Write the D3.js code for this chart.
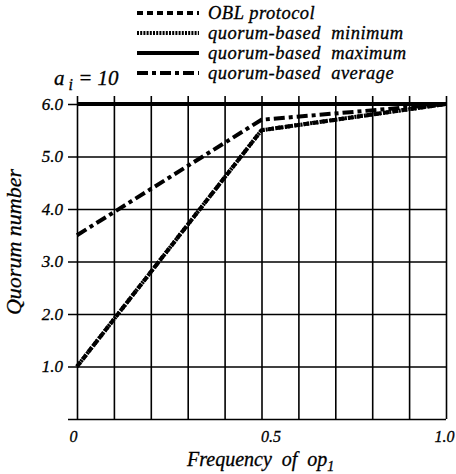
<!DOCTYPE html>
<html>
<head>
<meta charset="utf-8">
<script src="https://d3js.org/d3.v7.min.js"></script>
<style>
  body { margin: 0; background: #fff; }
  text { font-family: "Liberation Serif", "DejaVu Serif", serif; font-style: italic; fill: #000; stroke: #000; stroke-width: 0.3; }
  .grid line { stroke: #000; stroke-width: 1.6; }
  .grid path { display: none; }
</style>
</head>
<body>
<div id="chart"></div>
<script>
'use strict';

// data
var freq = [0, 0.5, 1.0];
var oblProtocol = [1.0, 5.5, 6.0];
var quorumMin = [1.0, 5.5, 6.0];
var quorumMax = [6.0, 6.0, 6.0];
var quorumAvg = [3.5, 5.7, 6.0];

var seriesNames = ["OBL protocol", "quorum-based  minimum", "quorum-based  maximum", "quorum-based  average"];
var xTicks = [0, 0.1, 0.2, 0.3, 0.4, 0.5, 0.6, 0.7, 0.8, 0.9, 1.0];
var xLabels = {"0": "0", "0.5": "0.5", "1": "1.0"};
var yTicks = [0, 1, 2, 3, 4, 5, 6];

// plot box
var W = 456, H = 474;
var plot = {left: 77, right: 446, top: 104, bottom: 419};

var x = d3.scaleLinear().domain([0, 1]).range([plot.left, plot.right]);
var y = d3.scaleLinear().domain([0, 6]).range([plot.bottom, plot.top]);

var svg = d3.select("#chart").append("svg")
  .attr("width", W)
  .attr("height", H);

// horizontal grid + y labels
svg.append("g")
  .attr("class", "grid")
  .attr("transform", "translate(68,0)")
  .call(d3.axisLeft(y).tickValues(yTicks).tickSize(-(plot.right - 68)).tickPadding(5)
    .tickFormat(function(d) { return d === 0 ? "" : d3.format(".1f")(d); }))
  .selectAll("text")
    .style("font-size", "17px");

// vertical grid + x labels
var xg = svg.append("g")
  .attr("class", "grid")
  .attr("transform", "translate(0," + plot.bottom + ")")
  .call(d3.axisBottom(x).tickValues(xTicks).tickSize(-(plot.bottom - 96)).tickPadding(12)
    .tickFormat(function(d) { return xLabels[String(d)] || ""; }));
xg.selectAll("text")
  .style("font-size", "16px")
  .attr("dx", function(d) { return d === 0 ? -4 : (d === 0.5 ? 9 : -2); });

// series
var series = [
  {values: quorumMax, dash: null},
  {values: quorumAvg, dash: "11,4,4,4"},
  {values: oblProtocol, dash: "6,3"},
  {values: quorumMin, dash: "2,1.2"}
];

var line = d3.line()
  .x(function(d, i) { return x(freq[i]); })
  .y(function(d) { return y(d); });

svg.selectAll("path.series")
  .data(series)
  .enter().append("path")
    .attr("class", "series")
    .attr("d", function(d) { return line(d.values); })
    .attr("fill", "none")
    .attr("stroke", "#000")
    .attr("stroke-width", 4)
    .attr("stroke-dasharray", function(d) { return d.dash; });

// legend
var legendDash = ["6,4", "2,1.2", null, "11,4,4,4"];
var legend = svg.append("g");
seriesNames.forEach(function(name, i) {
  var ly = 13 + i * 20;
  legend.append("line")
    .attr("x1", 137).attr("x2", 199)
    .attr("y1", ly).attr("y2", ly)
    .attr("stroke", "#000")
    .attr("stroke-width", 4)
    .attr("stroke-dasharray", legendDash[i]);
  legend.append("text")
    .attr("x", 208).attr("y", ly + 6)
    .style("font-size", "18.5px")
    .style("letter-spacing", "0.5px")
    .style("white-space", "pre")
    .text(name);
});

// a_i = 10
var ai = svg.append("text").attr("x", 54).attr("y", 85).style("font-size", "21px");
ai.append("tspan").text("a");
ai.append("tspan").attr("dy", 5).style("font-size", "16px").text(" i");
ai.append("tspan").attr("dy", -5).text(" = 10");

// axis titles
svg.append("text")
  .attr("transform", "translate(21,242) rotate(-90)")
  .attr("text-anchor", "middle")
  .style("font-size", "22px")
  .text("Quorum number");

var xt = svg.append("text")
  .attr("x", 187).attr("y", 466)
  .style("font-size", "20px")
  .style("white-space", "pre");
xt.append("tspan").text("Frequency  of  op");
xt.append("tspan").attr("dy", 5).style("font-size", "14px").text("1");
</script>
</body>
</html>
